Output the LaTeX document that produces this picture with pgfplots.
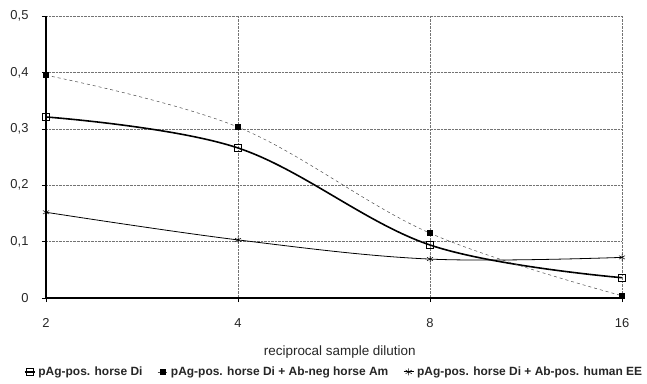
\documentclass[border=0pt]{standalone}
\usepackage{pgfplots}
\pgfplotsset{compat=1.18}
\usepackage{fontspec}
\setmainfont{Liberation Sans}
\begin{document}
\begin{tikzpicture}
\useasboundingbox (-46bp,-86bp) rectangle (601bp,298bp);
\begin{axis}[
  at={(0,0)}, anchor=south west,
  scale only axis, width=576bp, height=282bp,
  xmin=0, xmax=3, ymin=0, ymax=0.5,
  xtick={0,1,2,3}, xticklabels={2,4,8,16},
  ytick={0,0.1,0.2,0.3,0.4,0.5},
  axis x line=bottom, axis y line=left,
  axis line style={line width=1.3pt, -},
  grid=major,
  major grid style={densely dotted, black!55, line width=0.5pt},
  tick align=outside, major tick length=4bp,
  tick style={black, line width=0.6pt},
  /pgf/number format/.cd, fixed, precision=1, use comma, assume math mode=true,
  /pgfplots/.cd,
  ticklabel style={font=\fontsize{13}{15}\selectfont, text=black!85},
  xticklabel style={yshift=-13bp},
  yticklabel style={xshift=-10bp},
  xlabel={reciprocal sample dilution},
  xlabel style={font=\fontsize{13.5}{16}\selectfont, text=black!85, at={(axis description cs:0.51,0)}, anchor=center, yshift=-54bp},
  legend style={at={(axis description cs:0.5,-0.262)}, anchor=center, draw=none, legend columns=3,
    font=\fontsize{12}{14}\selectfont\bfseries, text=black!85,
    inner sep=0pt,
    /tikz/every odd column/.append style={column sep=1bp},
    /tikz/every even column/.append style={column sep=13bp}},
  legend image code/.code={\draw[#1, mark repeat=2, mark phase=2] plot coordinates {(0bp,0bp) (5bp,0bp) (10bp,0bp)};},
  clip=false
]
\addplot[black, line width=1.6pt, smooth, tension=0.6, mark=square, mark size=3.5bp, mark options={solid, line width=0.5pt, fill=white}]
  coordinates {(0,0.321) (1,0.266) (2,0.094) (3,0.036)};
\addlegendentry{pAg-pos. horse Di}
\addplot[black!70, line width=0.5pt, dashed, smooth, tension=0.6, mark=square*, mark size=2.5bp, mark options={solid, black}]
  coordinates {(0,0.395) (1,0.303) (2,0.115) (3,0.004)};
\addlegendentry{pAg-pos. horse Di + Ab-neg horse Am}
\addplot[black, line width=0.8pt, smooth, tension=0.6, mark=asterisk, mark size=3.5bp, mark options={solid, line width=0.5pt}]
  coordinates {(0,0.152) (1,0.103) (2,0.069) (3,0.072)};
\addlegendentry{pAg-pos. horse Di + Ab-pos. human EE}
\end{axis}
\end{tikzpicture}
\end{document}
